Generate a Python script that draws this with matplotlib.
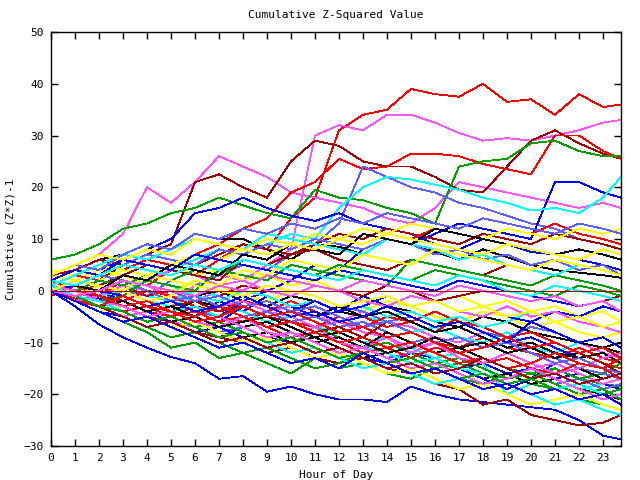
import matplotlib
matplotlib.use("Agg")
import matplotlib.pyplot as plt

plt.rcParams['font.family'] = ['DejaVu Sans Mono']

hours = list(range(24)) + [23.75]
xticks = list(range(24))
yticks = [-30, -20, -10, 0, 10, 20, 30, 40, 50]

# one list per run, hourly values
run_a = [1, 0, -1, 2, 1, 4, 3, 6, 9, 8, 14, 18, 31, 34, 35, 39, 38, 37.5, 40, 36.5, 37, 34, 38, 35.5, 36]
run_b = [2, 0, -1, 1, 0, -2, 1, 3, 2, 5, 8, 30, 32, 31, 34, 34, 32.5, 30.5, 29, 29.5, 29, 30, 31, 32.5, 33]
run_c = [3, 5, 7, 11, 20, 17, 21, 26, 24, 22, 19, 18, 17, 16, 14, 13, 16, 21, 20, 19, 18, 17, 16, 17, 16]
run_d = [1, 3, 2, 5, 7, 9, 21, 22.5, 20, 18, 25, 29, 28, 25, 24, 24, 22, 19.5, 19, 24, 29, 31, 28.5, 26.5, 25.5]
run_e = [-1, 1, 0, 3, 2, 4, 7, 9, 12, 14, 19, 21, 25.5, 23.5, 24, 26.5, 26.5, 26, 24.5, 23.5, 22.5, 30, 30, 27, 25.5]
run_f = [6, 7, 9, 12, 13, 15, 16, 18, 16.5, 15, 14, 19.5, 18, 17.5, 16, 15, 13, 24, 25, 25.5, 28.5, 29, 27, 26, 26]
run_g = [0, -1, -2, 0, -1, 2, 1, 3, 5, 4, 7, 9, 13, 24, 22, 20, 19, 17, 16, 14.5, 13, 12, 10, 9, 8]
run_h = [1, 0, -1.5, -3, -2, -4, -3, -5, -2, 0, 2, 5, 4, 8, 10, 9, 11, 13, 12, 11, 10, 21, 21, 19, 18]
run_i = [0, 2, 1, 3, 5, 4, 6, 8, 7, 9, 11, 10, 16, 20, 22, 21.5, 20.5, 19.5, 18, 17, 15.5, 16, 15, 18, 22]
run_j = [0, 2, 4, 6, 8, 10, 15, 16, 18, 16, 14.5, 13.5, 15, 13, 12, 11, 9, 8, 10, 9, 7.5, 7, 6, 5, 4]
run_k = [2, 4, 6, 7, 9, 8, 11, 10, 10, 8, 6, 9, 8.5, 7, 10, 9, 7.5, 6, 8, 6.5, 5, 4, 3.5, 3, 2.5]
run_low = [0, -3, -6.5, -9, -11, -12.8, -14, -17, -16.5, -19.5, -18.5, -20, -21, -21, -21.5, -18.5, -20, -21, -21.5, -22, -22.5, -23, -25, -28, -28.7]
run_01 = [0, -1.5, -3, -2, -4, -5, -3, -5, -6, -4, -6, -7, -5, -7, -9, -8, -10, -11, -9, -11, -12, -13, -11, -13, -14]
run_02 = [1, 0, -1, -3, -2, -4, -6, -8, -7, -9, -10, -8, -10, -11, -13, -12, -14, -15, -13, -15, -16, -15, -17, -18, -18.5]
run_03 = [0, -2, -4, -5, -7, -6, -8, -9, -7, -9, -10, -12, -11, -13, -14, -12, -13, -15, -14, -16, -15, -17, -16, -18, -19]
run_04 = [2, 1, 0, 2, 1, -1, -2, 0, -2, -4, -3, -5, -6, -4, -6, -7, -9, -10, -8, -10, -11, -12, -10, -12, -13]
run_05 = [1, 3, 2, 1, -1, -2, 0, -1, -3, -2, -4, -5, -3, -5, -6, -8, -7, -9, -10, -8, -11, -12, -10, -9, -11]
run_06 = [3, 2, 4, 3, 1, 0, 2, 1, -1, -2, 0, -1, -3, -4, -2, -3, -5, -6, -4, -5, -7, -6, -8, -9, -8]
run_07 = [0, -1, -2, -3, -5, -6, -8, -9, -10, -12, -11, -13, -14, -13, -15, -16, -18, -19, -22, -21, -24, -25, -26, -25.5, -24]
run_08 = [1, 0, -2, -1, -3, -2, -4, -5, -3, -2, -4, -5, -3, -4, -6, -5, -7, -6, -8, -9, -7, -8, -10, -11, -12]
run_09 = [0, 2, 1, 3, 2, 1, -1, 0, -2, -3, -1, -2, -4, -5, -3, -4, -6, -7, -5, -6, -8, -9, -10, -11, -12]
run_10 = [2, 0, 1, -1, -3, -2, -4, -3, -5, -4, -2, -4, -6, -5, -7, -6, -8, -5, -7, -9, -11, -10, -12, -11, -13]
run_11 = [0, -2, -4, -6, -8, -11, -10, -13, -12, -14, -16, -13, -15, -14, -16, -17, -15, -17, -18, -16, -18, -19, -21, -22, -23]
run_12 = [1, -1, 0, -2, -4, -3, -5, -2, -4, -1, -3, -5, -4, -1, -3, -5, -7, -6, -8, -10, -9, -11, -13, -12, -14]
run_13 = [0, -1, -3, -5, -4, -6, -7, -9, -8, -10, -12, -11, -13, -12, -14, -16, -15, -17, -19, -18, -20, -19, -21, -20, -19]
run_14 = [2, 1, -1, 0, -2, -3, -1, -3, -4, -6, -5, -7, -8, -10, -9, -11, -13, -12, -14, -20, -18, -17, -19, -18, -17]
run_15 = [4, 3, 5, 4, 6, 5, 3, 4, 2, 3, 1, 2, 0, -1, 1, 0, -2, -1, -3, -2, -4, -3, -5, -4, -6]
run_16 = [1, 0, 2, 1, -1, 0, -2, -1, 1, 0, -1, 1, 0, -1, 1, 0, -2, -1, 0, -1, -2, -1, -3, -2, -1]
run_17 = [0, -2, -1, -3, -5, -4, -6, -8, -7, -9, -8, -10, -12, -11, -13, -12, -14, -13, -15, -17, -16, -18, -17, -19, -18]
run_18 = [1, -1, -3, -2, -4, -6, -5, -7, -9, -8, -10, -9, -11, -13, -12, -14, -13, -15, -17, -16, -18, -17, -19, -20, -21]
run_19 = [0, 1, -1, -2, 0, -1, -3, -4, -2, -3, -5, -4, -6, -7, -5, -6, -4, -6, -7, -9, -8, -10, -12, -14, -15]
run_20 = [1, 0, -2, -4, -3, -5, -7, -6, -8, -10, -9, -7, -9, -11, -10, -12, -14, -13, -15, -17, -16, -18, -20, -19, -21]
run_21 = [0, -1, -3, -2, -4, -6, -8, -7, -9, -11, -10, -12, -11, -13, -15, -14, -16, -15, -17, -19, -17, -14, -16, -18, -17]
run_22 = [1, 0, -1, 1, 0, -2, -1, -3, -2, -4, -5, -7, -6, -8, -9, -11, -10, -12, -14, -13, -15, -14, -16, -18, -17]
run_23 = [0, -1, 1, 0, 2, 1, -1, -2, 0, -1, -3, -2, -4, -3, -5, -4, -6, -5, -7, -6, -4, -6, -5, -7, -8]
run_24 = [0, -2, -4, -3, -5, -7, -6, -8, -10, -9, -11, -13, -12, -14, -16, -15, -17, -19, -18, -20, -22, -21, -20, -22, -23]
run_25 = [3, 4, 6, 5, 7, 6, 5, 7, 9, 8, 7, 9, 11, 10, 12, 11, 10, 9, 11, 10, 9, 11, 10, 9, 8]
run_26 = [2, 4, 3, 5, 7, 6, 5, 8, 7, 9, 8, 10, 9, 8, 10, 9, 7, 8, 6, 7, 5, 6, 4, 5, 3]
run_27 = [0, -1, -2, -1, -3, -4, -2, -3, -5, -4, -6, -5, -3, -5, -4, -6, -8, -7, -9, -11, -10, -12, -13, -12, -14]
run_28 = [1, 3, 2, 4, 6, 5, 7, 6, 8, 7, 9, 8, 10, 9, 11, 10, 12, 11, 10, 12, 11, 13, 11, 10, 9]
run_29 = [0, -1, -3, -5, -7, -9, -8, -10, -12, -11, -13, -15, -14, -12, -14, -13, -15, -14, -16, -18, -17, -15, -17, -16, -14]
run_30 = [1, 0, -2, -1, -3, -5, -4, -6, -3, -5, -4, -2, -4, -3, -1, -3, -2, -4, -3, -5, -6, -4, -5, -3, -4]
run_31 = [0, 2, 1, 3, 2, 4, 3, 1, 2, 0, -1, 1, 0, -2, -3, -1, -2, -4, -5, -3, -5, -4, -6, -7, -8]
run_32 = [1, 0, -1, -3, -2, -4, -3, -5, -7, -6, -8, -10, -9, -11, -12, -14, -13, -15, -16, -18, -17, -19, -18, -20, -19]
run_33 = [1, 0, 2, 4, 3, 5, 7, 6, 8, 10, 9, 11, 10, 12, 11, 13, 12, 11, 10, 12, 11, 10, 12, 11, 12]
run_34 = [0, -1, 1, 3, 5, 4, 3, 2, 6, 5, 7, 8, 6, 5, 4, 6, 5, 4, 3, 5, 4, 3, 2, 1, 0]
run_35 = [2, 1, 3, 2, 0, -2, -1, -3, -5, -4, -6, -5, -7, -6, -8, -10, -9, -11, -10, -12, -11, -13, -15, -16, -17]
run_36 = [0, -2, -1, -3, -2, -4, -6, -5, -7, -6, -8, -10, -9, -11, -8, -10, -12, -11, -13, -15, -14, -16, -15, -17, -16]
run_37 = [0, -1, -2, -4, -3, -5, -4, -6, -5, -7, -9, -8, -10, -12, -11, -13, -11, -12, -14, -13, -15, -16, -14, -15, -13]
run_38 = [0, -1, -2, -1, 2, 1, 0, 4, 3, 2, 5, 4, 3, 2, 1, 6, 5, 4, 3, 2, 1, 3, 2, 1, 0]
run_39 = [2, 4, 3, 6, 5, 4, 7, 6, 5, 4, 3, 2, 4, 3, 2, 1, 0, 2, 1, 0, -1, -2, -3, -2, -4]
run_40 = [0, -2, -1, -3, -5, -4, -6, -7, -5, -8, -9, -7, -10, -11, -9, -12, -10, -13, -14, -12, -14, -16, -15, -13, -12]
run_41 = [1, 3, 5, 7, 6, 8, 10, 9, 8, 11, 10, 9, 8, 7, 10, 9, 8, 6, 7, 5, 4, 3, 5, 4, 3]
run_42 = [0, -1, 1, 0, -2, -1, 2, 1, 4, 3, 6, 5, 4, 7, 6, 5, 8, 7, 6, 5, 4, 6, 5, 4, 3]
run_43 = [1, 0, -1, -2, -4, -3, -2, -4, -3, -5, -6, -8, -7, -9, -6, -8, -10, -12, -11, -9, -11, -13, -12, -14, -16]
run_44 = [0, 1, 3, 2, 1, 0, -2, -1, -3, -2, -4, -3, -5, -7, -6, -8, -10, -9, -11, -10, -12, -14, -13, -15, -16]
run_45 = [0, -1, -3, -2, -4, -3, -5, -7, -6, -5, -7, -9, -8, -10, -12, -11, -9, -11, -10, -12, -11, -13, -12, -11, -10]
run_46 = [1, 0, -1, -3, -2, -4, -5, -3, -5, -7, -6, -8, -10, -9, -11, -10, -12, -14, -13, -15, -14, -12, -14, -15, -17]
run_47 = [1, 0, 2, 1, 3, 2, 4, 3, 6, 5, 4, 3, 5, 4, 3, 2, 4, 3, 2, 1, 0, -1, 1, 0, -1]
run_48 = [0, 1, 0, -1, -3, -2, -4, -3, -1, -3, -5, -4, -6, -5, -3, -5, -7, -6, -8, -10, -6, -8, -10, -9, -11]
run_49 = [1, 0, -2, -3, -5, -4, -6, -5, -7, -9, -8, -10, -12, -11, -13, -15, -14, -16, -18, -17, -15, -17, -19, -21, -20]
run_50 = [1, -1, -2, -4, -6, -5, -7, -9, -8, -10, -12, -11, -13, -15, -14, -16, -18, -17, -19, -18, -20, -22, -21, -23, -24]
run_51 = [0, 2, 1, 0, 3, 2, 1, 0, -1, 1, 0, -1, -3, -2, -1, -3, -2, -4, -3, -5, -4, -6, -5, -7, -6]
run_52 = [0, -1, -3, -5, -7, -6, -8, -10, -9, -11, -10, -12, -11, -13, -15, -14, -16, -15, -13, -15, -17, -16, -18, -17, -16]
run_53 = [3, 5, 4, 7, 9, 8, 11, 10, 12, 11, 13, 12, 14, 13, 15, 14, 13, 12, 14, 13, 12, 11, 13, 12, 11]
run_54 = [2, 1, 0, 3, 2, 5, 4, 3, 7, 6, 9, 8, 7, 11, 10, 9, 12, 11, 10, 9, 8, 7, 8, 7, 6]
run_55 = [0, -2, -3, -1, -3, -4, -6, -5, -3, -5, -4, -6, -8, -7, -9, -8, -10, -12, -11, -9, -11, -10, -12, -11, -13]
run_56 = [0, -1, -3, -4, -6, -5, -7, -9, -8, -10, -9, -11, -13, -12, -14, -13, -15, -17, -16, -18, -17, -19, -21, -20, -19]
run_57 = [0, -2, -4, -6, -5, -7, -9, -11, -10, -12, -14, -13, -15, -12, -14, -16, -15, -17, -19, -18, -20, -19, -21, -20, -22]
run_58 = [0, -1, 0, 2, 1, 0, -1, 1, 0, 3, 2, 1, 0, 2, 1, 0, -1, 1, 0, -1, -2, -1, -3, -2, -4]
run_59 = [2, 1, 3, 5, 4, 3, 5, 4, 6, 5, 4, 3, 2, 4, 3, 2, 1, 3, 2, 0, -1, 1, 0, -1, -2]
run_60 = [3, 5, 7, 6, 8, 7, 10, 9, 8, 7, 9, 8, 10, 9, 11, 10, 9, 8, 7, 9, 8, 7, 6, 8, 7]

runs = [run_a, run_b, run_c, run_d, run_e, run_f, run_g, run_h, run_i, run_j, run_k, run_low,
        run_01, run_02, run_03, run_04, run_05, run_06, run_07, run_08, run_09, run_10,
        run_11, run_12, run_13, run_14, run_15, run_16, run_17, run_18, run_19, run_20,
        run_21, run_22, run_23, run_24, run_25, run_26, run_27, run_28, run_29, run_30,
        run_31, run_32, run_33, run_34, run_35, run_36, run_37, run_38, run_39, run_40,
        run_41, run_42, run_43, run_44, run_45, run_46, run_47, run_48, run_49, run_50,
        run_51, run_52, run_53, run_54, run_55, run_56, run_57, run_58, run_59, run_60]
palette = ['#ff0000', '#00a000', '#0000ff', '#ff55ff', '#00ffff', '#ffff00', '#a00000', '#6060ff', '#000000']
run_colors = ['#ff0000', '#ff55ff', '#ff55ff', '#a00000', '#ff0000', '#00a000', '#6060ff', '#0000ff',
              '#00ffff', '#0000ff', '#000000', '#0000ff']
run_colors += [palette[i % len(palette)] for i in range(len(runs) - len(run_colors))]

fig = plt.figure(figsize=(6.4, 4.8), dpi=100)
ax = fig.add_axes([0.0797, 0.0708, 0.8906, 0.8625])

for vals, col in zip(runs, run_colors):
    ax.plot(hours, vals, color=col, lw=0.6, antialiased=False)
ax.axhline(0, color='#a00000', lw=0.6, antialiased=False, zorder=5)

ax.set_xlim(0, 23.75)
ax.set_ylim(-30, 50)
ax.set_xticks(xticks)
ax.set_yticks(yticks)
ax.tick_params(direction='in', length=5, width=1, top=True, right=True, labelsize=8, pad=5)
for s in ax.spines.values():
    s.set_linewidth(1)

ax.set_title('Cumulative Z-Squared Value', fontsize=8, pad=10)
ax.set_xlabel('Hour of Day', fontsize=8, labelpad=5)
ax.set_ylabel('Cumulative (Z*Z)-1', fontsize=8, labelpad=6)

fig.savefig('out.png', dpi=100)
